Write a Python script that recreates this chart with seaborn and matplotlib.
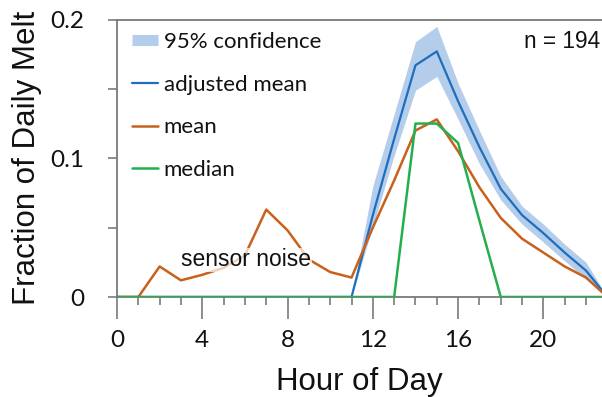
import matplotlib
matplotlib.use("Agg")
import matplotlib.pyplot as plt
from matplotlib.lines import Line2D
from matplotlib.ticker import MultipleLocator, FixedLocator
import numpy as np
import pandas as pd
import seaborn as sns

# Hourly melt fractions
hours = list(range(24))
mean_melt = [0.0, 0.0, 0.022, 0.012, 0.016, 0.021, 0.030, 0.063, 0.048, 0.027,
             0.018, 0.014, 0.050, 0.084, 0.120, 0.128, 0.105, 0.079, 0.057, 0.042,
             0.032, 0.022, 0.014, 0.0]
adj_mean = [0.0] * 11 + [0.0, 0.059, 0.114, 0.167, 0.177, 0.141, 0.108, 0.078,
                         0.059, 0.046, 0.032, 0.019, 0.0]
ci_low = [0.0] * 11 + [0.0, 0.051, 0.102, 0.149, 0.159, 0.128, 0.096, 0.070,
                       0.0525, 0.0395, 0.026, 0.013, 0.0]
ci_high = [0.0] * 11 + [0.0, 0.080, 0.132, 0.184, 0.195, 0.154, 0.120, 0.087,
                        0.0655, 0.0525, 0.038, 0.025, 0.0]
median_melt = [0.0] * 14 + [0.125, 0.125, 0.111, 0.055, 0.0, 0.0, 0.0, 0.0,
                            0.0, 0.0]
n_days = 194
x_ticks = [0, 4, 8, 12, 16, 20]
y_ticks = [0, 0.1, 0.2]
y_tick_labels = ["0", "0.1", "0.2"]

sns.set_theme(style="ticks")
plt.rcParams["font.family"] = ["Liberation Sans", "DejaVu Sans"]
plt.rcParams["xtick.bottom"] = True
plt.rcParams["xtick.minor.visible"] = True

BAND = "#B4CDEB"
BLUE = "#1E6EBE"
ORANGE = "#C9601C"
GREEN = "#22B04F"
GREY = "#7A7A7A"

df = pd.DataFrame({"hour": hours, "mean": mean_melt, "adj": adj_mean,
                   "lo": ci_low, "hi": ci_high, "median": median_melt})

W, H = 602, 397
fig = plt.figure(figsize=(W / 100, H / 100), dpi=100)
ax = fig.add_axes([117 / W, 1 - 297 / H, 1 - 117 / W, (297 - 19.5) / H])

ax.fill_between(df["hour"], df["lo"], df["hi"], color=BAND, linewidth=0, zorder=1)
sns.lineplot(data=df, x="hour", y="adj", ax=ax, color=BLUE, linewidth=1.6, zorder=2)
sns.lineplot(data=df, x="hour", y="mean", ax=ax, color=ORANGE, linewidth=1.8, zorder=3)
sns.lineplot(data=df, x="hour", y="median", ax=ax, color=GREEN, linewidth=1.8, zorder=4)

ax.set_xlim(0, (W - 117) / 21.32)
ax.set_ylim(0, 0.2)

# spines
for side in ["left", "top", "bottom"]:
    ax.spines[side].set_visible(True)
    ax.spines[side].set_color(GREY)
    ax.spines[side].set_linewidth(1.3)
ax.spines["right"].set_visible(False)

# ticks: labelled every 4 h, small marks every hour
ax.xaxis.set_major_locator(FixedLocator(x_ticks))
ax.set_xticklabels([str(t) for t in x_ticks])
ax.xaxis.set_minor_locator(MultipleLocator(1))
ax.yaxis.set_major_locator(FixedLocator(y_ticks))
ax.set_yticklabels(y_tick_labels)
ax.yaxis.set_minor_locator(MultipleLocator(0.05))
ax.tick_params(axis="x", which="major", direction="out", length=16, width=1.2,
               color=GREY, pad=8, labelsize=17.5, bottom=True, top=False)
ax.tick_params(axis="x", which="minor", direction="out", length=6, width=1.2,
               color=GREY, bottom=True, top=False)
ax.tick_params(axis="y", which="both", direction="out", length=6.5, width=1.2,
               color=GREY, left=True, right=False)
ax.tick_params(axis="y", which="major", pad=17, labelsize=17.5)
for lab in ax.get_xticklabels() + ax.get_yticklabels():
    lab.set_family(["Lato", "DejaVu Sans"])
    lab.set_color("#111111")

ax.set_xlabel("Hour of Day", fontsize=22.5, color="#111111", labelpad=11)
ax.set_ylabel("Fraction of Daily Melt", fontsize=22.5, color="#111111", labelpad=6)

# annotations
fig.text(181 / W, 1 - 260 / H, "sensor noise", fontsize=16.5, color="#111111",
         ha="left", va="center", zorder=5,
         bbox=dict(facecolor="white", edgecolor="none", alpha=0.7, pad=0.5))
fig.text(524 / W, 1 - 42 / H, f"n = {n_days}", fontsize=16.3, color="#111111",
         ha="left", va="center")

# legend
handles = [
    Line2D([], [], color=BAND, linewidth=8, solid_capstyle="butt"),
    Line2D([], [], color=BLUE, linewidth=1.6),
    Line2D([], [], color=ORANGE, linewidth=1.8),
    Line2D([], [], color=GREEN, linewidth=1.8),
]
labels = ["95% confidence", "adjusted mean", "mean", "median"]
leg = ax.legend(handles, labels, loc="upper left",
                bbox_to_anchor=(132 / W, 1 - 32 / H), bbox_transform=fig.transFigure,
                frameon=False, borderpad=0, borderaxespad=0, handlelength=1.17,
                handletextpad=0.25, labelspacing=1.02,
                prop={"family": ["Lato", "DejaVu Sans"], "size": 16})
for t in leg.get_texts():
    t.set_color("#111111")

fig.savefig("out.png", dpi=100)
